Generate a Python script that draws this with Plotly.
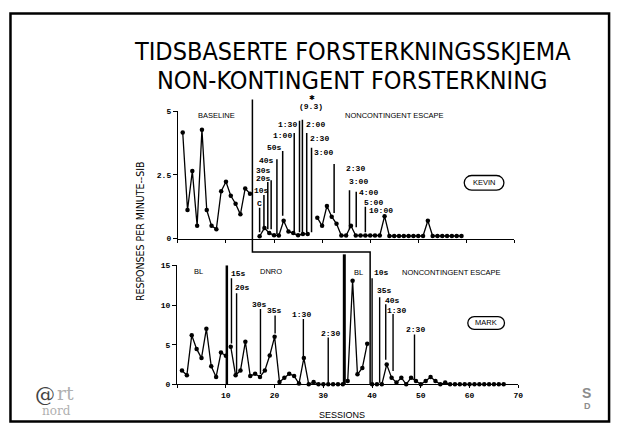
import plotly.graph_objects as go

# ---------------- data ----------------
# KEVIN (top panel) - responses per minute SIB
kevin_bl_sessions = list(range(1, 16))
kevin_bl_rate = [4.17, 1.12, 2.65, 0.50, 4.28, 1.12, 0.50, 0.37, 1.86, 2.23,
                 1.68, 1.37, 0.95, 1.97, 1.76]
kevin_nce_sessions = list(range(17, 60))
kevin_nce_rate = [0.09, 0.41, 0.22, 0.13, 0.12, 0.70, 0.28, 0.22, 0.13, 0.18, 0.18,
                  None,
                  0.82, 0.50, 1.28, 0.86, 0.58, 0.12, 0.12, 0.50, 0.12, 0.12, 0.12,
                  0.12, 0.12, 0.12, 0.88,
                  0.10, 0.10, 0.10, 0.10, 0.10, 0.10, 0.10, 0.10,
                  0.70,
                  0.10, 0.10, 0.10, 0.10, 0.10, 0.10, 0.10]
kevin_offscale_session = 28
kevin_offscale_value = 9.3
kevin_phase_change = 15.5

# MARK (bottom panel)
mark_bl1_sessions = list(range(1, 11))
mark_bl1_rate = [1.75, 1.14, 6.20, 4.47, 3.31, 7.01, 2.28, 0.93, 4.01, 3.60]
mark_dnro_sessions = list(range(11, 35))
mark_dnro_rate = [4.75, 1.14, 1.75, 5.37, 1.05, 1.33, 0.93, 1.75, 3.64, 5.99,
                  0.31, 0.84, 1.33, 1.05, 0.10, 3.31, 0.00, 0.30,
                  0.00, 0.00, 0.00, 0.00, 0.00, 0.00]
mark_bl2_sessions = list(range(35, 40))
mark_bl2_rate = [0.43, 13.06, 1.26, 2.07, 5.12]
mark_nce_sessions = list(range(40, 68))
mark_nce_rate = [0.00, 0.00, 0.00, 2.49, 0.84, 0.22, 0.84, 0.00, 0.84, 0.43,
                 0.00, 0.43, 0.93, 0.43, 0.00, 0.22,
                 0.00, 0.00, 0.00, 0.00, 0.00, 0.00, 0.00, 0.00, 0.00, 0.00, 0.00, 0.00]
mark_phase_changes = [10.2, 34.3, 39.6]

# schedule-change markers (label, session of line, line top, line bottom)
kevin_sched_labels = ["C", "10s", "20s", "30s", "40s", "50s", "1:00", "1:30", "2:00",
                      "2:30", "3:00", "2:30", "3:00", "4:00", "5:00", "10:00"]
kevin_sched_sessions = [17.0, 17.9, 18.7, 19.4, 20.6, 21.8, 24.2, 25.3, 25.9,
                        26.8, 27.8, 32.5, 35.7, 37.1, 39.0, 39.8]
kevin_sched_top = [1.21, 1.71, 2.22, 2.29, 3.12, 3.44, 4.15, 4.63, 4.67,
                   4.15, 3.57, 2.93, 1.90, 1.84, 1.25, 1.10]
kevin_sched_bottom = [0.25, 0.44, 0.37, 0.37, 0.17, 0.90, 0.25, 0.25, 0.25,
                      0.25, 0.25, 1.00, 0.37, 0.44, 0.25, 1.10]

mark_sched_labels = ["15s", "20s", "30s", "35s", "1:30", "2:30",
                     "10s", "35s", "40s", "1:30", "2:30"]
mark_sched_sessions = [11.15, 12.2, 17.1, 20.1, 25.9, 31.0, 40.0, 41.55, 42.8, 44.3, 48.7]
mark_sched_top = [13.4, 11.5, 9.5, 8.7, 8.25, 5.9, 13.4, 11.0, 10.1, 8.86, 6.3]
mark_sched_bottom = [5.16, 1.3, 1.3, 6.4, 3.5, 0.2, 0.2, 0.2, 3.1, 1.67, 0.64]

x_tick_vals = [0, 10, 20, 30, 40, 50, 60, 70]
x_tick_text = ["", "10", "20", "30", "40", "50", "60", "70"]
kevin_y_ticks = [0, 2.5, 5]
kevin_y_text = ["0", "2.5", "5"]
mark_y_ticks = [0, 5, 10, 15]
mark_y_text = ["0", "5", "10", "15"]

# ---------------- layout constants (pixels of the 624x428 slide) ----------------
OFF = 8                      # page body margin
W, H = 624 - OFF, 428 - OFF  # figure size
XMAX = 70
TOP_X = (179.3, 518.5)
TOP_Y = (239.5, 109.5)
TOP_YMAX = 5
BOT_X = (178.5, 522.5)
BOT_Y = (388.5, 267.0)
BOT_YMAX = 15

MONO = "Liberation Mono, DejaVu Sans Mono, monospace"
SANS = "Liberation Sans, Arial, sans-serif"
NARROW = "Liberation Sans Narrow, Arial Narrow, DejaVu Sans Condensed, sans-serif"


def fx(px):
    return (px - OFF) / W


def fy(py):
    return 1 - (py - OFF) / H


def paper(x, y):
    return fx(x), fy(y)


def top_px(s, v):
    return (TOP_X[0] + s / XMAX * (TOP_X[1] - TOP_X[0]),
            TOP_Y[0] + v / TOP_YMAX * (TOP_Y[1] - TOP_Y[0]))


def bot_px(s, v):
    return (BOT_X[0] + s / XMAX * (BOT_X[1] - BOT_X[0]),
            BOT_Y[0] + v / BOT_YMAX * (BOT_Y[1] - BOT_Y[0]))


fig = go.Figure()

line_style = dict(color="black", width=1.3)
marker_style = dict(color="black", size=4.5)

for xs, ys in [(kevin_bl_sessions, kevin_bl_rate), (kevin_nce_sessions, kevin_nce_rate)]:
    fig.add_trace(go.Scatter(x=xs, y=ys, mode="lines+markers", line=line_style,
                             marker=marker_style, connectgaps=False, showlegend=False,
                             xaxis="x", yaxis="y", cliponaxis=False))
for xs, ys in [(mark_bl1_sessions, mark_bl1_rate), (mark_dnro_sessions, mark_dnro_rate),
               (mark_bl2_sessions, mark_bl2_rate), (mark_nce_sessions, mark_nce_rate)]:
    fig.add_trace(go.Scatter(x=xs, y=ys, mode="lines+markers", line=line_style,
                             marker=marker_style, connectgaps=False, showlegend=False,
                             xaxis="x2", yaxis="y2", cliponaxis=False))

shapes = []
annotations = []

# schedule lines + labels, KEVIN
kevin_label_anchor = ["center", "center", "center", "center", "right", "right", "right", "right",
                      "left", "left", "left", "left", "left", "left", "left", "left"]
kevin_label_pos = [(17.0, 1.37), (17.4, 1.88), (17.8, 2.35), (17.8, 2.67), (20.3, 3.06),
                   (21.9, 3.58), (24.0, 4.06), (25.0, 4.5), (26.5, 4.47), (27.2, 3.92),
                   (28.2, 3.38), (34.8, 2.75), (35.4, 2.25), (37.5, 1.79), (38.5, 1.4),
                   (39.6, 1.1)]
for lab, s, t, b, anc, (lx, ly) in zip(kevin_sched_labels, kevin_sched_sessions, kevin_sched_top,
                                       kevin_sched_bottom, kevin_label_anchor, kevin_label_pos):
    if t != b:
        shapes.append(dict(type="line", xref="x", yref="y", x0=s, x1=s, y0=b, y1=t,
                           line=dict(color="black", width=1.5)))
    annotations.append(dict(x=lx, y=ly, xref="x", yref="y", text=lab, showarrow=False,
                            xanchor=anc, yanchor="middle", borderpad=0,
                            font=dict(family=MONO, size=8, color="black", weight="bold")))

# schedule lines + labels, MARK
mark_label_anchor = ["left", "left", "center", "center", "center", "center",
                     "left", "left", "left", "left", "center"]
mark_label_pos = [(10.9, 14.0), (11.6, 12.16), (16.9, 10.06), (19.9, 9.38), (25.6, 8.83),
                  (31.4, 6.36), (40.1, 14.1), (40.9, 11.85), (42.5, 10.56), (42.9, 9.32),
                  (49.0, 6.98)]
for lab, s, t, b, anc, (lx, ly) in zip(mark_sched_labels, mark_sched_sessions, mark_sched_top,
                                       mark_sched_bottom, mark_label_anchor, mark_label_pos):
    shapes.append(dict(type="line", xref="x2", yref="y2", x0=s, x1=s, y0=b, y1=t,
                       line=dict(color="black", width=1.4)))
    annotations.append(dict(x=lx, y=ly, xref="x2", yref="y2", text=lab, showarrow=False,
                            xanchor=anc, yanchor="middle", borderpad=0,
                            font=dict(family=MONO, size=8, color="black", weight="bold")))

# phase change lines (KEVIN's line steps down to MARK's last phase change)
kx, ky_top = top_px(kevin_phase_change, 5.46)
mx_nce, my_connect = bot_px(mark_phase_changes[2], 16.7)
_, my_zero = bot_px(mark_phase_changes[2], 0)
p = [paper(kx, ky_top), paper(kx, my_connect), paper(mx_nce, my_connect), paper(mx_nce, my_zero)]
shapes.append(dict(type="path", xref="paper", yref="paper",
                   path="M {:.5f},{:.5f} L {:.5f},{:.5f} L {:.5f},{:.5f} L {:.5f},{:.5f}".format(
                       p[0][0], p[0][1], p[1][0], p[1][1], p[2][0], p[2][1], p[3][0], p[3][1]),
                   line=dict(color="black", width=1.5)))
for s, vt, w in [(mark_phase_changes[0], 15, 2.5), (mark_phase_changes[1], 16.4, 3)]:
    a, b = paper(*bot_px(s, 0))
    c, d = paper(*bot_px(s, vt))
    shapes.append(dict(type="line", xref="paper", yref="paper", x0=a, x1=c, y0=b, y1=d,
                       line=dict(color="black", width=w)))


def P(x, y, **kw):
    a, b = paper(x, y)
    d = dict(x=a, y=b, xref="paper", yref="paper", showarrow=False,
             xanchor="center", yanchor="middle")
    d.update(kw)
    return d


# off-scale point (9.3)
annotations.append(P(*top_px(kevin_offscale_session - 0.3, 5.2),
                     text="({})".format(kevin_offscale_value),
                     font=dict(family=MONO, size=8, color="black", weight="bold")))
annotations.append(P(*top_px(kevin_offscale_session, 5.52), text="✱",
                     font=dict(family="DejaVu Sans, sans-serif", size=7, color="black")))

# phase labels
phase_font = dict(family=SANS, size=7.5, color="black")
annotations += [
    dict(x=8.1, y=4.85, xref="x", yref="y", text="BASELINE", showarrow=False, font=phase_font),
    dict(x=45.1, y=4.83, xref="x", yref="y", text="NONCONTINGENT ESCAPE", showarrow=False, font=phase_font),
    dict(x=4.4, y=14.2, xref="x2", yref="y2", text="BL", showarrow=False, font=phase_font),
    dict(x=19.3, y=14.2, xref="x2", yref="y2", text="DNRO", showarrow=False, font=phase_font),
    dict(x=37.3, y=14.1, xref="x2", yref="y2", text="BL", showarrow=False, font=phase_font),
    dict(x=56.3, y=14.1, xref="x2", yref="y2", text="NONCONTINGENT ESCAPE", showarrow=False, font=phase_font),
]


# participant ovals
def stadium(cx, cy, w, h):
    r = h / 2.0
    k = 0.5523 * r
    x0, x1 = cx - w / 2 + r, cx + w / 2 - r
    pts = ["M {},{}".format(*paper(x0, cy - r)),
           "L {},{}".format(*paper(x1, cy - r)),
           "C {},{} {},{} {},{}".format(*paper(x1 + k, cy - r), *paper(x1 + r, cy - k), *paper(x1 + r, cy)),
           "C {},{} {},{} {},{}".format(*paper(x1 + r, cy + k), *paper(x1 + k, cy + r), *paper(x1, cy + r)),
           "L {},{}".format(*paper(x0, cy + r)),
           "C {},{} {},{} {},{}".format(*paper(x0 - k, cy + r), *paper(x0 - r, cy + k), *paper(x0 - r, cy)),
           "C {},{} {},{} {},{} Z".format(*paper(x0 - r, cy - k), *paper(x0 - k, cy - r), *paper(x0, cy - r))]
    return " ".join(pts)


for name, pos_fn, s, v, w, h in [("KEVIN", top_px, 63.7, 2.19, 40, 15),
                                  ("MARK", bot_px, 63.4, 7.74, 37, 13)]:
    cx, cy = pos_fn(s, v)
    shapes.append(dict(type="path", xref="paper", yref="paper", path=stadium(cx, cy, w, h),
                       line=dict(color="black", width=1.3)))
    annotations.append(P(cx, cy, text=name, font=dict(family=SANS, size=7.5, color="black")))

# slide frame
shapes.append(dict(type="rect", xref="paper", yref="paper",
                   x0=fx(10.5), x1=fx(614), y0=fy(426.5), y1=fy(9.5),
                   line=dict(color="black", width=2.5)))

annotations += [
    P(355, 48, text="TIDSBASERTE FORSTERKNINGSSKJEMA",
      font=dict(family=NARROW, size=25, color="black")),
    P(355, 78, text="NON-KONTINGENT FORSTERKNING",
      font=dict(family=NARROW, size=25, color="black")),
    P(141, 232, text="RESPONSES PER MINUTE--SIB", textangle=-90,
      font=dict(family=NARROW, size=10.5, color="black")),
    P(345, 420, text="SESSIONS", font=dict(family=SANS, size=9, color="black")),
    P(45, 399, text="@", font=dict(family="DejaVu Serif, serif", size=20, color="#444444")),
    P(66, 397, text="rt", font=dict(family="DejaVu Serif, serif", size=19, color="#b0b0b0")),
    P(57, 416, text="nord", font=dict(family="DejaVu Serif, serif", size=12, color="#b0b0b0")),
    P(591, 397, text="S", font=dict(family=SANS, size=14, color="#8c8c8c", weight="bold")),
    P(592, 411, text="D", font=dict(family=SANS, size=9, color="#8c8c8c", weight="bold")),
]

axis_common = dict(showgrid=False, zeroline=False, showline=True, linecolor="black", linewidth=1.2,
                   ticks="outside", tickcolor="black", tickwidth=1.1, fixedrange=True)
tick_font = dict(family=MONO, size=8, color="black", weight="bold")

fig.update_layout(
    width=W, height=H, margin=dict(l=0, r=0, t=0, b=0),
    paper_bgcolor="white", plot_bgcolor="white", showlegend=False,
    xaxis=dict(domain=[fx(TOP_X[0]), fx(TOP_X[1])], range=[0, XMAX], anchor="y",
               tickvals=x_tick_vals, showticklabels=False, ticklen=3, **axis_common),
    yaxis=dict(domain=[fy(TOP_Y[0]), fy(TOP_Y[1])], range=[0, TOP_YMAX], anchor="x",
               tickvals=kevin_y_ticks, ticktext=kevin_y_text, ticklen=4, tickfont=tick_font,
               **axis_common),
    xaxis2=dict(domain=[fx(BOT_X[0]), fx(BOT_X[1])], range=[0, XMAX], anchor="y2",
                tickvals=x_tick_vals, ticktext=x_tick_text, ticklen=3, tickfont=tick_font,
                **axis_common),
    yaxis2=dict(domain=[fy(BOT_Y[0]), fy(BOT_Y[1])], range=[0, BOT_YMAX], anchor="x2",
                tickvals=mark_y_ticks, ticktext=mark_y_text, ticklen=4, tickfont=tick_font,
                **axis_common),
    shapes=shapes, annotations=annotations,
)

fig.write_html("out.html")
